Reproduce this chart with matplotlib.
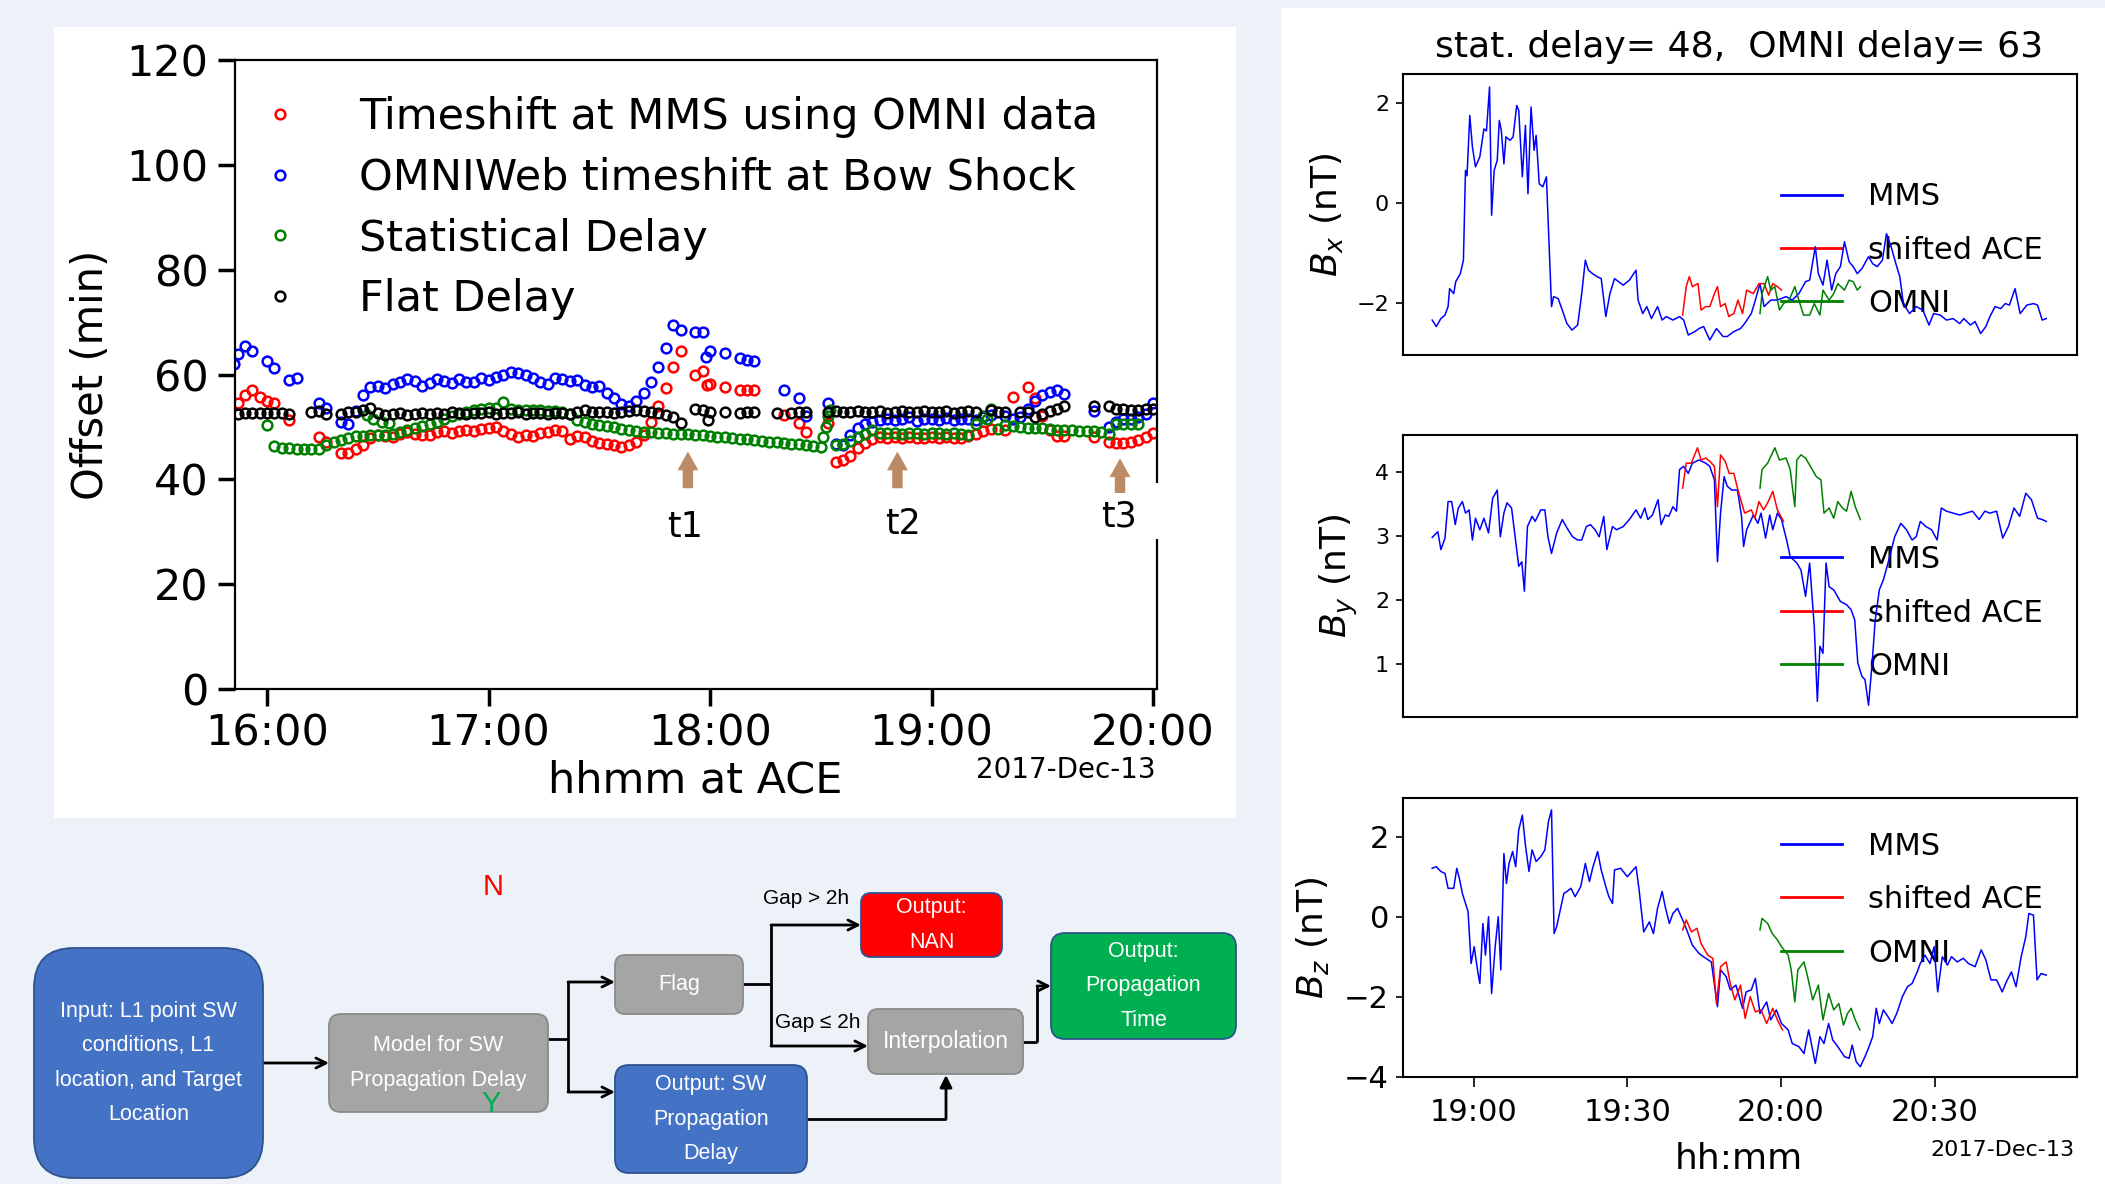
import numpy as np
import matplotlib
matplotlib.use('Agg')
import matplotlib.pyplot as plt
from matplotlib.patches import FancyBboxPatch, Rectangle
from matplotlib.transforms import blended_transform_factory

nan = np.nan

# ---------------- data: left panel (offset vs. time at ACE) ----------------
ace_minutes = np.arange(952, 1201, 2)          # 15:52 ... 20:00, 2-min samples
ace_hours = ace_minutes / 60.0

omni_mms = [54.5, 56.0, 57.0, 55.8, 55.0, 54.6, nan, 51.3, nan, nan,
            nan, 48.1, 47.2, nan, 45.0, 45.0, 45.8, 46.5, 47.8, 48.4,
            48.2, 48.0, 48.6, 49.0, 48.6, 48.4, 48.5, 49.0, 49.2, 48.8,
            49.2, 49.4, 49.3, 49.6, 49.8, 50.0, 49.3, 48.6, 48.1, 48.5,
            48.3, 48.8, 49.0, 49.4, 49.2, 47.6, 48.3, 48.0, 47.4, 47.0,
            46.8, 46.6, 46.2, 46.6, 47.2, 48.5, 51.0, 54.0, 57.5, 61.5,
            64.5, nan, 59.9, 60.6, 58.2, nan, 57.7, nan, 57.1, 57.0,
            57.1, nan, nan, nan, 52.3, nan, 50.7, 49.1, nan, nan,
            50.7, 43.4, 43.6, 44.5, 46.0, 47.0, 47.7, 48.1, 47.9, 48.0,
            47.8, 48.1, 47.9, 47.8, 48.0, 47.9, 48.1, 47.8, 47.9, 48.2,
            48.6, 49.2, 49.6, nan, 49.5, 55.8, nan, 57.7, 55.5, 52.0,
            49.5, 48.3, 48.2, nan, nan, nan, 48.1, nan, 47.2, 46.9,
            47.0, 47.2, 47.5, 48.0, 48.8]
omniweb_bs = [64.0, 65.5, 64.5, nan, 62.5, 61.3, nan, 59.0, 59.4, nan,
              nan, 54.6, 53.6, nan, 51.0, 50.6, 53.0, 56.0, 57.6, 57.8,
              57.5, 58.2, 58.6, 59.2, 58.7, 57.8, 58.4, 59.2, 58.7, 58.3,
              59.1, 58.6, 58.5, 59.4, 59.0, 59.5, 59.9, 60.5, 60.3, 60.0,
              59.4, 58.6, 58.2, 59.3, 59.2, 58.8, 59.0, 58.0, 57.7, 57.8,
              56.5, 55.5, 54.4, 54.0, 55.0, 56.4, 58.5, 61.5, 65.0, 69.5,
              68.5, nan, 68.2, 68.2, 64.5, nan, 64.1, nan, 63.1, 62.8,
              62.5, nan, nan, nan, 57.1, nan, 55.5, 52.0, nan, nan,
              54.5, 46.8, 46.5, 48.5, 49.8, 50.5, 51.0, 51.4, 51.6, 51.3,
              51.5, 51.8, 51.2, 51.5, 51.6, 51.3, 51.7, 51.4, 51.5, 51.6,
              51.3, 51.8, 52.2, nan, 52.0, 51.5, 51.8, 53.5, 55.0, 56.0,
              56.6, 57.0, 56.2, nan, nan, nan, 53.0, nan, 50.0, 51.0,
              51.5, 51.6, 51.8, 52.5, 54.5]
stat_delay = [nan, nan, nan, nan, 50.4, 46.4, 45.9, 45.9, 45.8, 45.8,
              45.7, 45.8, 46.6, 47.1, 47.5, 47.8, 48.2, 48.3, 48.5, 48.4,
              48.4, 48.6, 49.0, 49.4, 49.7, 50.1, 50.6, 51.0, 51.5, 52.0,
              52.4, 52.9, 53.2, 53.5, 53.6, 53.6, 54.8, 53.4, 53.3, 53.2,
              53.2, 53.2, 53.1, 53.0, 52.8, 52.4, 51.3, 50.9, 50.6, 50.3,
              50.1, 49.9, 49.6, 49.4, 49.3, 49.1, 49.0, 48.9, 48.8, 48.7,
              48.6, 48.6, 48.5, 48.4, 48.2, 48.1, 48.0, 47.9, 47.7, 47.6,
              47.5, 47.4, 47.2, 47.1, 47.0, 46.8, 46.7, 46.5, 46.3, 46.2,
              52.0, 46.5, 46.8, 47.4, 48.0, 48.7, 49.4, 48.8, 48.8, 48.8,
              48.7, 48.8, 48.8, 48.7, 48.8, 48.8, 48.7, 48.8, 48.6, 48.5,
              50.5, 52.0, 53.5, 49.6, 50.3, 50.2, 49.9, 49.8, 49.7, 49.7,
              49.6, 49.5, 49.5, 49.4, 49.3, 49.2, 49.2, 49.0, 48.6, 50.6,
              50.6, 50.5, 50.5, nan, nan]
flat_delay = [52.5, 52.6, 52.6, 52.6, 52.7, 52.6, 52.7, 52.5, nan, nan,
              52.9, 53.0, 52.4, nan, 52.5, 52.8, 52.9, 53.3, 53.6, 52.6,
              52.3, 52.4, 52.6, 52.3, 52.5, 52.7, 52.4, 52.6, 52.5, 52.8,
              52.6, 52.4, 52.7, 52.6, 52.8, 52.5, 52.7, 52.6, 52.8, 52.5,
              52.7, 52.6, 52.4, 52.7, 52.6, 52.5, 52.8, 53.2, 52.9, 52.8,
              52.8, 52.6, 52.8, 53.0, 53.2, 53.0, 52.9, 52.6, 52.3, 51.9,
              50.8, nan, 53.5, 53.2, 52.9, nan, 52.9, nan, 52.7, 52.8,
              52.9, nan, nan, 52.7, nan, 52.7, 52.8, 52.9, nan, nan,
              52.9, 53.0, 52.8, 52.9, 53.1, 52.8, 52.9, 53.0, 52.7, 52.9,
              53.0, 52.8, 52.9, 53.1, 52.8, 52.9, 53.0, 52.7, 52.9, 53.0,
              52.8, nan, 53.2, 52.9, 52.9, nan, 52.9, 52.8, 51.9, 52.4,
              53.0, 53.4, 53.9, nan, nan, nan, 53.9, nan, 53.9, 53.5,
              53.4, 53.3, 53.3, 53.4, 53.5]

# a few additional samples (hours, minutes of offset)
omni_mms_extra_t = [17.985]
omni_mms_extra_v = [58.0]
omniweb_extra_t = [15.85, 17.98]
omniweb_extra_v = [62.0, 63.4]
stat_extra_t = [16.45, 16.48, 16.52, 16.55, 18.51, 18.525, 18.54, 19.25]
stat_extra_v = [52.3, 51.5, 51.0, 50.7, 48.0, 50.0, 53.2, 51.5]
flat_extra_t = [17.99]
flat_extra_v = [51.3]

left_xticks = [16, 17, 18, 19, 20]
left_xticklabels = ['16:00', '17:00', '18:00', '19:00', '20:00']
markers_t = [17.90, 18.846, 19.851]
markers_lbl = ['t1', 't2', 't3']

# ---------------- data: right panels (minutes after 19:00) ----------------
bx_mms_t = [-8.1, -7.3, -6.4, -5.6, -5.0, -4.7, -3.9, -3.5, -2.6, -2.0,
            -1.6, -1.3, -0.76, -0.25, 0.35, 1.2, 2.0, 2.5, 3.1, 3.5,
            4.0, 4.6, 5.0, 5.4, 5.9, 6.3, 7.1, 7.7, 8.4, 8.8,
            9.5, 10.1, 10.6, 11.2, 11.8, 12.2, 12.8, 13.5, 14.2, 14.8,
            15.2, 15.6, 16.5, 17.3, 18.2, 19.2, 20.3, 21.1, 21.8, 22.4,
            23.2, 24.1, 24.9, 25.8, 26.6, 27.5, 28.3, 29.2, 30.4, 31.7,
            32.1, 33.0, 33.8, 34.7, 35.9, 36.8, 37.6, 38.9, 40.2, 41.0,
            41.9, 43.2, 44.0, 44.9, 46.1, 47.4, 48.7, 49.5, 50.8, 52.1,
            52.9, 54.2, 55.0, 55.9, 56.7, 58.0, 59.3, 61.0, 62.2, 63.5,
            64.8, 65.6, 66.7, 67.3, 68.2, 69.0, 69.9, 70.7, 71.6, 72.4,
            73.3, 74.1, 74.9, 75.8, 77.1, 77.9, 78.8, 79.8, 80.6, 81.5,
            82.6, 83.2, 83.9, 85.1, 86.4, 87.7, 88.9, 89.8, 91.1, 92.3,
            93.6, 94.9, 95.7, 97.0, 97.9, 99.0, 100.0, 100.8, 101.8, 102.9,
            103.8, 104.6, 105.7, 106.7, 108.0, 109.3, 110.1, 111.0, 111.8]
bx_mms_v = [-2.34, -2.47, -2.31, -2.24, -2.07, -1.71, -1.81, -1.57, -1.41, -1.14,
            0.66, 0.55, 1.76, 1.13, 0.73, 0.93, 1.49, 1.45, 2.33, -0.24,
            0.66, 0.86, 1.66, 1.46, 0.79, 1.33, 1.26, 1.33, 1.96, 1.86,
            0.53, 1.56, 0.19, 1.93, 1.06, 1.36, 0.39, 0.33, 0.53, -1.01,
            -2.07, -1.87, -1.91, -2.14, -2.41, -2.54, -2.44, -1.81, -1.14, -1.34,
            -1.41, -1.47, -1.51, -2.27, -1.81, -1.51, -1.57, -1.64, -1.54, -1.34,
            -1.94, -2.21, -2.07, -2.31, -2.07, -2.34, -2.27, -2.34, -2.27, -2.34,
            -2.64, -2.57, -2.51, -2.47, -2.74, -2.51, -2.67, -2.67, -2.57, -2.51,
            -2.41, -2.21, -1.94, -1.61, -2.07, -1.94, -1.94, -1.87, -1.94, -1.81,
            -1.57, -1.54, -0.87, -1.41, -1.64, -1.14, -1.74, -1.41, -1.27, -0.77,
            -1.17, -1.27, -1.41, -1.31, -1.07, -1.21, -1.27, -1.14, -0.61, -0.87,
            -1.27, -1.47, -2.01, -2.21, -2.07, -2.14, -2.44, -2.21, -2.24, -2.34,
            -2.31, -2.41, -2.31, -2.44, -2.37, -2.61, -2.47, -2.27, -2.07, -2.11,
            -2.01, -2.04, -1.71, -2.21, -2.04, -2.01, -2.04, -2.34, -2.31]
bx_ace_t = [40.8, 41.5, 42.1, 42.7, 43.8, 44.4, 45.3, 46.1, 47.0, 47.6, 48.2, 49.1,
            49.8, 50.8, 51.6, 52.5, 53.3, 54.6, 55.7, 56.7, 57.6, 58.4, 59.3, 60.1]
bx_ace_v = [-2.24, -1.67, -1.47, -1.67, -1.61, -2.14, -2.07, -2.07, -1.81, -1.67, -2.07, -2.01,
            -2.27, -2.21, -1.94, -2.21, -1.74, -1.81, -1.61, -1.61, -1.84, -1.61, -1.67, -1.74]
bx_omni_t = [55.9, 56.3, 57.4, 58.0, 58.8, 59.7, 60.5, 61.6, 62.7, 63.5, 64.4, 65.6,
             66.5, 67.6, 68.2, 69.4, 70.3, 71.1, 72.4, 73.3, 74.1, 74.9, 75.5]
bx_omni_v = [-2.21, -1.81, -1.47, -1.74, -1.67, -2.14, -2.01, -1.94, -1.67, -1.94, -2.24, -2.24,
             -2.01, -2.24, -1.74, -1.94, -1.81, -1.61, -1.74, -1.54, -1.57, -1.74, -1.67]

by_mms_t = [-8.1, -7.0, -6.4, -5.6, -5.0, -4.3, -3.6, -3.0, -2.2, -1.6,
            -0.9, -0.25, 0.35, 1.2, 2.0, 2.9, 3.7, 4.6, 5.2, 5.9,
            6.5, 7.4, 8.0, 8.8, 9.4, 9.9, 10.5, 11.4, 12.0, 13.1,
            13.9, 14.5, 15.2, 16.2, 17.3, 18.2, 19.3, 20.3, 21.1, 22.0,
            22.8, 23.7, 24.5, 25.4, 26.0, 27.1, 27.9, 29.2, 30.4, 31.7,
            32.6, 33.4, 34.0, 34.9, 36.0, 36.6, 37.4, 38.1, 38.9, 39.6,
            40.2, 41.0, 41.9, 42.7, 44.0, 45.3, 46.1, 47.0, 47.6, 48.2,
            48.9, 49.5, 50.4, 51.5, 52.3, 52.7, 53.3, 54.2, 54.6, 55.5,
            56.1, 57.0, 57.8, 58.4, 59.3, 60.1, 61.1, 61.8, 63.1, 63.9,
            64.8, 65.6, 66.5, 67.1, 67.6, 68.2, 68.8, 69.4, 70.3, 71.6,
            72.8, 73.7, 74.4, 75.0, 75.8, 76.4, 77.1, 77.8, 78.4, 79.2,
            80.0, 80.9, 82.2, 83.4, 84.5, 85.6, 86.4, 87.2, 88.3, 89.4,
            90.5, 91.3, 92.3, 93.6, 94.9, 96.1, 97.4, 98.7, 99.8, 100.8,
            102.1, 103.3, 104.4, 105.5, 106.6, 107.8, 108.9, 110.1, 111.0, 111.8]
by_mms_v = [2.98, 3.07, 2.79, 2.97, 3.54, 3.54, 3.18, 3.44, 3.54, 3.36,
            3.41, 2.94, 3.28, 3.10, 3.28, 3.05, 3.59, 3.72, 2.99, 3.36,
            3.52, 3.44, 3.05, 2.53, 2.60, 2.14, 3.15, 3.31, 3.23, 3.41,
            3.41, 2.99, 2.73, 3.05, 3.26, 3.13, 2.99, 2.94, 2.94, 3.15,
            3.18, 3.10, 2.99, 3.31, 2.79, 3.15, 3.10, 3.15, 3.26, 3.41,
            3.28, 3.44, 3.26, 3.33, 3.57, 3.18, 3.33, 3.31, 3.46, 3.39,
            4.04, 4.09, 3.98, 4.14, 4.19, 4.14, 4.09, 3.88, 2.60, 3.36,
            3.93, 3.78, 3.72, 3.72, 3.31, 2.84, 3.10, 3.26, 3.33, 3.20,
            3.36, 2.97, 3.33, 3.10, 3.36, 3.26, 2.94, 2.68, 2.58, 2.47,
            2.06, 2.58, 1.59, 0.42, 1.28, 1.17, 2.58, 2.21, 2.16, 1.98,
            1.93, 1.85, 1.69, 1.02, 0.81, 0.76, 0.36, 1.02, 1.69, 2.16,
            2.32, 2.58, 2.99, 3.20, 3.10, 2.94, 2.99, 3.23, 3.15, 3.10,
            2.94, 3.44, 3.39, 3.36, 3.33, 3.36, 3.39, 3.26, 3.39, 3.36,
            3.39, 2.97, 3.15, 3.44, 3.31, 3.67, 3.57, 3.28, 3.26, 3.23]
by_ace_t = [40.8, 41.5, 42.5, 43.7, 44.4, 45.3, 46.1, 47.0, 47.6, 48.2, 49.1, 49.9,
            50.8, 51.6, 52.9, 54.2, 54.9, 55.7, 56.6, 57.4, 58.4, 59.3, 60.5]
by_ace_v = [3.75, 4.14, 4.14, 4.38, 4.19, 4.22, 4.17, 4.09, 3.46, 4.27, 4.17, 3.98,
            3.98, 3.72, 3.36, 3.41, 3.28, 3.54, 3.41, 3.52, 3.70, 3.41, 3.23]
by_omni_t = [55.9, 56.3, 57.4, 58.8, 59.7, 61.0, 61.8, 62.7, 63.1, 63.9, 64.8, 65.6,
             66.9, 67.8, 68.4, 69.4, 70.3, 71.1, 72.0, 72.8, 73.7, 74.5, 75.5]
by_omni_v = [3.75, 4.04, 4.14, 4.38, 4.19, 4.22, 4.04, 3.46, 4.19, 4.27, 4.22, 4.11,
             3.93, 3.88, 3.36, 3.44, 3.28, 3.54, 3.44, 3.39, 3.70, 3.46, 3.26]

bz_mms_t = [-8.1, -7.3, -6.4, -5.6, -5.0, -3.9, -3.3, -2.8, -2.2, -1.6,
            -1.1, -0.5, 0.1, 0.8, 1.2, 1.8, 2.3, 2.9, 3.5, 4.2,
            4.8, 5.3, 5.9, 6.4, 6.9, 7.6, 8.2, 8.8, 9.5, 10.1,
            10.8, 11.4, 12.2, 13.1, 13.9, 14.6, 15.2, 15.7, 16.2, 16.9,
            17.6, 18.2, 19.0, 19.8, 20.9, 21.8, 22.6, 23.3, 24.2, 24.9,
            25.8, 26.4, 27.1, 27.5, 28.7, 30.0, 31.7, 32.3, 33.2, 34.3,
            35.1, 35.9, 36.8, 37.4, 38.2, 38.9, 39.8, 40.8, 41.6, 42.7,
            44.0, 45.3, 46.4, 47.6, 48.2, 49.3, 50.1, 51.2, 52.5, 53.2,
            54.2, 55.0, 55.9, 57.2, 58.0, 59.1, 60.1, 61.4, 62.2, 63.5,
            64.5, 65.4, 66.7, 67.6, 68.4, 69.3, 70.1, 71.1, 72.4, 73.3,
            73.9, 74.7, 75.5, 76.4, 77.2, 77.9, 78.6, 79.2, 80.0, 80.9,
            81.7, 82.6, 83.7, 84.7, 85.6, 86.6, 87.2, 88.1, 89.1, 89.9,
            90.6, 91.5, 92.5, 93.3, 94.4, 95.6, 96.6, 97.9, 99.1, 100.0,
            101.0, 102.1, 103.2, 104.0, 105.0, 105.9, 106.9, 107.8, 108.4, 109.3,
            110.0, 110.8, 111.8]
bz_mms_v = [1.21, 1.25, 1.13, 1.08, 0.71, 0.71, 1.21, 0.96, 0.58, 0.33,
            0.13, -1.17, -0.75, -1.38, -1.67, -0.17, -0.96, 0.00, -1.92, -0.75,
            0.00, -1.33, 1.58, 0.83, 1.33, 1.63, 1.25, 2.17, 2.54, 1.79,
            1.13, 1.67, 1.38, 1.50, 1.67, 2.38, 2.67, -0.42, -0.25, 0.17,
            0.58, 0.63, 0.71, 0.50, 0.75, 1.33, 0.88, 1.25, 1.63, 1.17,
            0.75, 0.50, 0.33, 1.17, 1.21, 1.00, 1.25, 0.67, -0.38, -0.13,
            -0.42, 0.21, 0.63, 0.25, -0.17, 0.08, 0.21, -0.08, -0.33, -0.71,
            -0.92, -1.04, -1.13, -2.25, -1.33, -1.50, -1.83, -1.71, -2.29, -1.88,
            -1.83, -1.54, -2.42, -2.13, -2.58, -2.33, -2.67, -2.83, -3.17, -3.25,
            -3.42, -2.83, -3.67, -3.00, -3.17, -2.67, -3.08, -3.25, -3.50, -3.54,
            -3.21, -3.63, -3.75, -3.50, -3.25, -3.00, -2.29, -2.67, -2.33, -2.50,
            -2.67, -2.42, -2.00, -1.75, -1.67, -1.38, -1.17, -0.96, -1.17, -0.75,
            -1.88, -1.00, -1.21, -1.00, -1.13, -1.04, -1.17, -1.25, -0.83, -1.08,
            -1.58, -1.58, -1.88, -1.63, -1.38, -1.75, -1.00, -0.50, 0.08, 0.04,
            -1.58, -1.42, -1.46]
bz_ace_t = [40.8, 41.5, 42.5, 43.6, 44.4, 45.7, 46.7, 47.4, 48.2, 49.3, 50.1,
            51.0, 52.1, 53.0, 54.0, 55.0, 56.1, 57.2, 58.4, 59.3, 60.3]
bz_ace_v = [-0.33, -0.08, -0.38, -0.29, -0.67, -0.96, -1.04, -2.17, -1.25, -1.13, -1.67,
            -2.08, -1.71, -2.54, -2.00, -2.38, -2.33, -2.67, -2.29, -2.58, -2.83]
bz_omni_t = [55.9, 56.3, 57.4, 58.3, 59.3, 60.1, 61.4, 62.0, 62.7, 63.3, 64.5, 65.2,
             66.2, 67.3, 68.2, 69.3, 70.3, 71.3, 72.2, 73.0, 73.7, 74.5, 75.4]
bz_omni_v = [-0.33, -0.04, -0.17, -0.42, -0.58, -0.75, -0.96, -1.33, -2.13, -1.33, -1.13, -1.50,
             -2.08, -1.71, -2.58, -1.92, -2.33, -2.17, -2.71, -2.42, -2.29, -2.58, -2.83]

right_xticks = [0, 30, 60, 90]
right_xticklabels = ['19:00', '19:30', '20:00', '20:30']

# ---------------- figure ----------------
W, H = 2105, 1184
fig = plt.figure(figsize=(W / 100, H / 100), dpi=100)
fig.patch.set_facecolor('#edf1f8')

FLOW = ['Liberation Sans Narrow', 'Liberation Sans', 'DejaVu Sans']

bg = fig.add_axes([0, 0, 1, 1], zorder=0)
bg.set_xlim(0, W)
bg.set_ylim(H, 0)
bg.axis('off')
bg.add_patch(Rectangle((54, 27), 1182, 791, fc='white', ec='none'))
bg.add_patch(Rectangle((1281, 8), 824, 1176, fc='white', ec='none'))


def box(x0, y0, x1, y1, fc, ec, r, text, fs=15.5):
    p = FancyBboxPatch((x0, y0), x1 - x0, y1 - y0,
                       boxstyle=f"round,pad=0,rounding_size={r}",
                       fc=fc, ec=ec, lw=1.3, zorder=2)
    bg.add_patch(p)
    bg.text((x0 + x1) / 2, (y0 + y1) / 2, text, color='white', ha='center',
            va='center', fontsize=fs, family=FLOW, linespacing=1.85, zorder=3)


BLUE, GRAY, RED, GREEN = '#4472c4', '#a5a5a5', '#ff0000', '#00b050'
box(34, 948, 263, 1178, BLUE, '#2f528f', 40,
    'Input: L1 point SW\nconditions, L1\nlocation, and Target\nLocation')
box(329, 1014, 548, 1112, GRAY, '#8a8a8a', 12, 'Model for SW\nPropagation Delay')
box(615, 955, 743, 1014, GRAY, '#8a8a8a', 10, 'Flag')
box(615, 1065, 807, 1173, BLUE, '#2f528f', 14, 'Output: SW\nPropagation\nDelay')
box(861, 893, 1002, 957, RED, '#2f528f', 10, 'Output:\nNAN')
box(868, 1009, 1023, 1074, GRAY, '#8a8a8a', 10, 'Interpolation', fs=16.5)
box(1051, 933, 1236, 1039, GREEN, '#2f528f', 14, 'Output:\nPropagation\nTime')


def seg(xs, ys):
    bg.plot(xs, ys, color='black', lw=2, zorder=1, solid_capstyle='butt')


def arr(x0, y0, x1, y1, style='->'):
    bg.annotate('', xy=(x1, y1), xytext=(x0, y0),
                arrowprops=dict(arrowstyle=style, lw=2, color='black',
                                shrinkA=0, shrinkB=0, mutation_scale=18),
                zorder=1)


arr(263, 1063, 329, 1063)
seg([548, 568], [1039, 1039])
seg([568, 568], [982, 1092])
arr(568, 982, 615, 982)
arr(568, 1092, 615, 1092)
seg([743, 771], [984, 984])
seg([771, 771], [925, 1046])
arr(771, 925, 861, 925)
arr(771, 1046, 868, 1046)
seg([807, 946], [1119, 1119])
arr(946, 1119, 946, 1075, '-|>')
seg([1023, 1037], [1042, 1042])
seg([1037, 1037], [1042, 986])
arr(1037, 986, 1051, 986)

bg.text(806, 899, 'Gap > 2h', fontsize=15, ha='center', va='center', family=FLOW)
bg.text(818, 1022, 'Gap \u2264 2h', fontsize=15, ha='center', va='center', family=FLOW)
bg.text(493, 887, 'N', color='red', fontsize=21, ha='center', va='center', family=FLOW)
bg.text(491, 1104, 'Y', color=GREEN, fontsize=21, ha='center', va='center',
        family=FLOW, zorder=5)

# ---------------- main (left) plot ----------------
ax = fig.add_axes([235 / W, 1 - 689 / H, 922 / W, 629 / H], zorder=2)
ms, mew = 7, 1.8
ax.plot(np.concatenate([ace_hours, omni_mms_extra_t]),
        np.concatenate([omni_mms, omni_mms_extra_v]), 'o', ls='none', mfc='none',
        mec='#ff0000', ms=ms, mew=mew, label='Timeshift at MMS using OMNI data')
ax.plot(np.concatenate([ace_hours, omniweb_extra_t]),
        np.concatenate([omniweb_bs, omniweb_extra_v]), 'o', ls='none', mfc='none',
        mec='#0000ff', ms=ms, mew=mew, label='OMNIWeb timeshift at Bow Shock')
ax.plot(np.concatenate([ace_hours, stat_extra_t]),
        np.concatenate([stat_delay, stat_extra_v]), 'o', ls='none', mfc='none',
        mec='#008000', ms=ms, mew=mew, label='Statistical Delay')
ax.plot(np.concatenate([ace_hours, flat_extra_t]),
        np.concatenate([flat_delay, flat_extra_v]), 'o', ls='none', mfc='none',
        mec='black', ms=ms, mew=mew, label='Flat Delay')

ax.set_xlim(15.855, 20.018)
ax.set_ylim(0, 120)
ax.set_yticks(range(0, 121, 20))
ax.set_xticks(left_xticks)
ax.set_xticklabels(left_xticklabels)
ax.tick_params(axis='both', labelsize=31, length=12, width=2.5)
ax.tick_params(axis='x', pad=5)
ax.tick_params(axis='y', pad=7)
for s in ax.spines.values():
    s.set_linewidth(1.6)
ax.set_ylabel('Offset (min)', fontsize=30, va='center')
ax.yaxis.set_label_coords(-0.156, 0.5)
ax.set_xlabel('hhmm at ACE', fontsize=31, va='center')
ax.xaxis.set_label_coords(0.499, -0.145)
ax.text(0.998, -0.128, '2017-Dec-13', transform=ax.transAxes, ha='right',
        va='center', fontsize=20)
ax.legend(loc='upper left', bbox_to_anchor=(0.0255, 0.942), frameon=False,
          fontsize=31, handlelength=1.0, handletextpad=1.34, labelspacing=0.43,
          borderpad=0, borderaxespad=0, numpoints=1)

arrow_tops = [45.3, 45.3, 44.0]
arrow_bots = [38.3, 38.3, 37.4]
label_y = [31.0, 31.4, 33.0]
label_x = [17.886, 18.873, 19.846]
for xt, top, bot, lx, ly, lb in zip(markers_t, arrow_tops, arrow_bots, label_x, label_y, markers_lbl):
    ax.annotate('', xy=(xt, top), xytext=(xt, bot),
                arrowprops=dict(arrowstyle='simple,head_width=0.5,head_length=0.45,tail_width=0.25',
                                mutation_scale=30, color='#bc8a64', lw=0,
                                shrinkA=0, shrinkB=0))
    ax.text(lx, ly, lb, fontsize=25, ha='center', va='center')

trans = blended_transform_factory(ax.transAxes, ax.transData)
ax.add_patch(Rectangle((0.993, 28.7), 0.012, 10.6, transform=trans, fc='white',
                       ec='none', clip_on=False, zorder=6))

# ---------------- right panels ----------------
axbx = fig.add_axes([1403 / W, 1 - 355 / H, 674 / W, 281 / H], zorder=2)
axby = fig.add_axes([1403 / W, 1 - 716.7 / H, 674 / W, 281.7 / H], zorder=2)
axbz = fig.add_axes([1403 / W, 1 - 1076.7 / H, 674 / W, 278.4 / H], zorder=2)

panels = [
    (axbx, bx_mms_t, bx_mms_v, bx_ace_t, bx_ace_v, bx_omni_t, bx_omni_v,
     (-3.04, 2.59), [-2, 0, 2], '$B_x$ (nT)', -0.114, 0.373, 16),
    (axby, by_mms_t, by_mms_v, by_ace_t, by_ace_v, by_omni_t, by_omni_v,
     (0.18, 4.58), [1, 2, 3, 4], '$B_y$ (nT)', -0.095, 0.368, 16),
    (axbz, bz_mms_t, bz_mms_v, bz_ace_t, bz_ace_v, bz_omni_t, bz_omni_v,
     (-4.0, 2.96), [-4, -2, 0, 2], '$B_z$ (nT)', -0.134, 0.636, 22),
]
for (a, mt, mv, at, av, ot, ov, yl, yt, lab, lx, legy, tfs) in panels:
    a.plot(mt, mv, color='#0000ff', lw=1.1, label='MMS')
    a.plot(at, av, color='#ff0000', lw=1.1, label='shifted ACE')
    a.plot(ot, ov, color='#008000', lw=1.1, label='OMNI')
    a.set_xlim(-13.8, 117.8)
    a.set_ylim(*yl)
    a.set_yticks(yt)
    a.tick_params(axis='y', labelsize=tfs, length=5, width=1.2, pad=5)
    for s in a.spines.values():
        s.set_linewidth(1.5)
    a.set_ylabel(lab, fontsize=26, va='center')
    a.yaxis.set_label_coords(lx, 0.5)
    leg = a.legend(loc='center left', bbox_to_anchor=(0.561, legy), frameon=False,
                   fontsize=22, handlelength=2.0, handletextpad=0.84,
                   labelspacing=0.8, borderpad=0, borderaxespad=0)
    for h in leg.get_lines():
        h.set_linewidth(2)
    leg.set_zorder(1)

for a in (axbx, axby):
    a.tick_params(axis='x', bottom=False, labelbottom=False)
axbz.set_xticks(right_xticks)
axbz.set_xticklabels(right_xticklabels)
axbz.tick_params(axis='x', labelsize=22, length=7, width=1.2, pad=8)
axbz.set_xlabel('hh:mm', fontsize=26, va='center')
axbz.xaxis.set_label_coords(0.4985, -0.295)
axbz.text(0.997, -0.262, '2017-Dec-13', transform=axbz.transAxes, ha='right',
          va='center', fontsize=16)

fig.text(1739 / W, 1 - 57 / H, 'stat. delay= 48,  OMNI delay= 63', ha='center',
         va='baseline', fontsize=26)

fig.savefig('out.png', dpi=100, facecolor=fig.get_facecolor())
